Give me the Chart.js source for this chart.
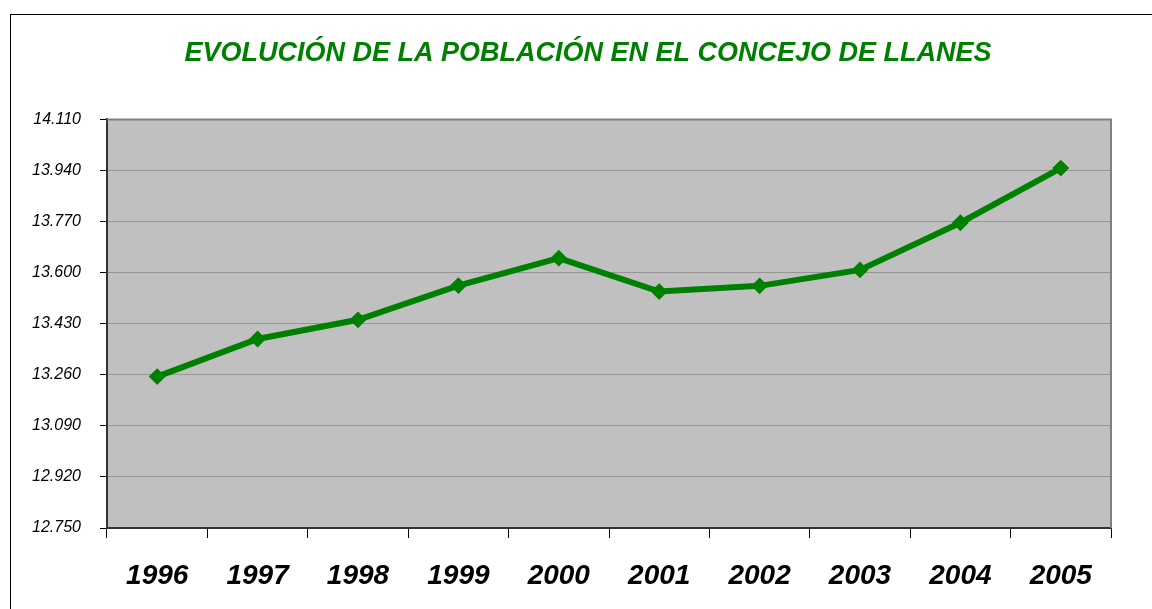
<!DOCTYPE html>
<html>
<head>
<meta charset="utf-8">
<script src="https://cdn.jsdelivr.net/npm/chart.js"></script>
<style>
  html, body { margin: 0; padding: 0; background: #fff; overflow: hidden; }
  #frame { position: absolute; left: 10px; top: 14px; width: 2000px; height: 2000px;
           border-left: 1.5px solid #000; border-top: 1.5px solid #000; }
  #wrap { position: absolute; left: 0; top: 0; width: 1152px; height: 609px; }
</style>
</head>
<body>
<div id="frame"></div>
<div id="wrap"><canvas id="myChart" width="1152" height="609"></canvas></div>
<script>
var years = ['1996', '1997', '1998', '1999', '2000', '2001', '2002', '2003', '2004', '2005'];
var poblacion = [13254, 13379, 13443, 13557, 13648, 13537, 13556, 13609, 13766, 13948];
var yMin = 12750;
var yMax = 14110;
var yStep = 170;

// fondo gris del area de trazado y borde superior/derecho
var plotBg = {
    id: 'plotBg',
    beforeDraw: function(chart) {
        var a = chart.chartArea, c = chart.ctx;
        c.save();
        c.fillStyle = '#C0C0C0';
        c.fillRect(a.left, a.top, a.right - a.left, a.bottom - a.top);
        c.restore();
    },
    afterDraw: function(chart) {
        var a = chart.chartArea, c = chart.ctx;
        c.save();
        c.strokeStyle = '#808080';
        c.lineWidth = 2;
        c.beginPath();
        c.moveTo(a.left, a.top);
        c.lineTo(a.right, a.top);
        c.lineTo(a.right, a.bottom);
        c.stroke();
        c.restore();
    }
};

var ctx = document.getElementById("myChart").getContext("2d");
var myChart = new Chart(ctx, {
    type: "line",
    data: {
        labels: years,
        datasets: [{
            label: 'Población',
            data: poblacion,
            borderColor: '#008000',
            backgroundColor: '#008000',
            borderWidth: 6,
            pointStyle: 'rectRot',
            pointRadius: 7,
            pointBorderWidth: 2,
            pointBackgroundColor: '#008000',
            pointBorderColor: '#008000',
            tension: 0
        }]
    },
    options: {
        responsive: false,
        animation: false,
        layout: { padding: { left: 24, right: 0, top: 0, bottom: 0 } },
        plugins: {
            legend: { display: false },
            tooltip: { enabled: false },
            title: {
                display: true,
                text: 'EVOLUCIÓN DE LA POBLACIÓN EN EL CONCEJO DE LLANES',
                color: '#008000',
                font: { family: 'Liberation Sans, Arial, sans-serif', size: 27, style: 'italic', weight: 'bold', lineHeight: 1.2 },
                padding: { top: 37, bottom: 50 }
            }
        },
        scales: {
            x: {
                offset: true,
                grid: { offset: true, drawOnChartArea: false, color: '#000', tickLength: 10, tickWidth: 1 },
                border: { color: '#333', width: 2 },
                ticks: {
                    color: '#000',
                    padding: 21,
                    maxRotation: 0,
                    font: { family: 'Liberation Sans, Arial, sans-serif', size: 28, style: 'italic', weight: 'bold', lineHeight: 1.2 }
                },
                afterFit: function(scale) { scale.height = 81; }
            },
            y: {
                min: yMin,
                max: yMax,
                grid: { color: '#969696', tickColor: '#000', tickLength: 7, lineWidth: 1 },
                border: { color: '#333', width: 2 },
                ticks: {
                    stepSize: yStep,
                    color: '#000',
                    padding: 19,
                    font: { family: 'Liberation Sans, Arial, sans-serif', size: 16, style: 'italic' },
                    callback: function(v) { return v.toLocaleString('es-ES', { useGrouping: 'always' }).replace(',', '.'); }
                },
                afterFit: function(scale) { scale.width = 83; }
            },
            // eje vacio a la derecha, solo reserva el margen
            yRight: {
                position: 'right',
                display: true,
                grid: { display: false },
                border: { display: false },
                ticks: { display: false },
                afterFit: function(scale) { scale.width = 41; }
            }
        }
    },
    plugins: [plotBg]
});
</script>
</body>
</html>
